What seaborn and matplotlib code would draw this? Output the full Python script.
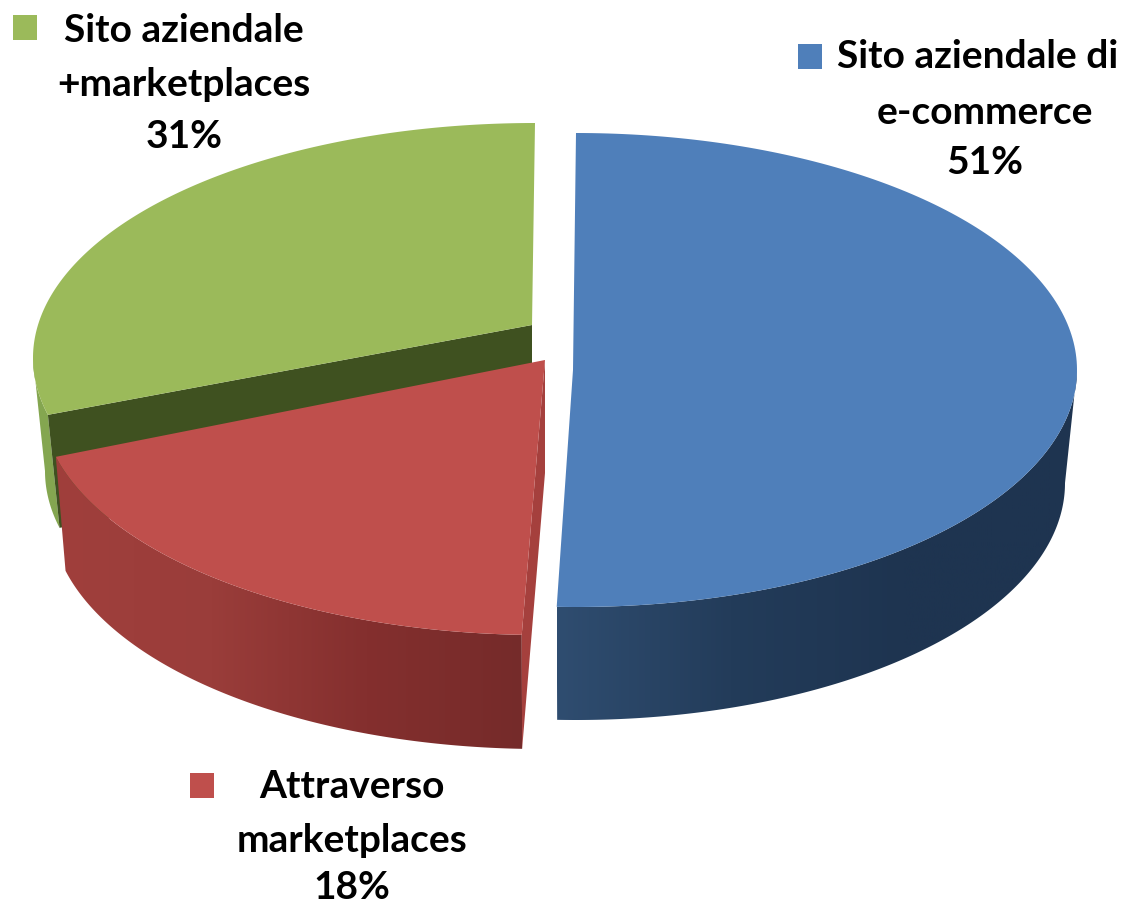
import numpy as np
import matplotlib
matplotlib.use("Agg")
import matplotlib.pyplot as plt
from matplotlib.colors import LinearSegmentedColormap
from matplotlib.patches import Polygon, Rectangle
import seaborn as sns

# chart data
categories = ["Sito aziendale di e-commerce", "Attraverso marketplaces", "Sito aziendale +marketplaces"]
values = [51, 18, 31]
label_lines = [["Sito aziendale di", "e-commerce"], ["Attraverso", "marketplaces"], ["Sito aziendale", "+marketplaces"]]

sns.set_theme(style="white")
plt.rcParams["font.family"] = ["Lato", "DejaVu Sans"]
top_colors = sns.color_palette(["#4F7FBA", "#BF4F4C", "#9BBA5A"])


def warp(theta):
    # The pie is seen in perspective, so angles on the disc are not ellipse angles.
    rad = np.radians(theta)
    return theta + 9.65 * np.cos(rad) + 1.0 * (1 - np.sin(rad))


def arc(cx, cy, rx, ry, start, end, n=200):
    phi = np.radians(np.linspace(start, end, n))
    return np.column_stack([cx + rx * np.cos(phi), cy - ry * np.sin(phi)])


def gradient_fill(ax, points, stops):
    # Side walls fade from left to right, drawn as an image clipped to the wall.
    cmap = LinearSegmentedColormap.from_list("wall", stops)
    x0, x1 = points[:, 0].min(), points[:, 0].max()
    y0, y1 = points[:, 1].min(), points[:, 1].max()
    patch = Polygon(points, closed=True, transform=ax.transData, facecolor="none", edgecolor="none")
    ax.add_patch(patch)
    img = ax.imshow(np.linspace(0, 1, 256).reshape(1, -1), cmap=cmap, aspect="auto",
                    extent=(x0, x1, y1, y0), zorder=patch.get_zorder())
    img.set_clip_path(patch)


# slice edges, clockwise from twelve o'clock
edges = 90 - np.cumsum([0] + values) * 3.6
blue_a, blue_b = warp(edges[0]), warp(edges[1])
red_a, red_b = warp(edges[1]), warp(edges[2])
green_a, green_b = warp(edges[2]), warp(edges[3])

fig = plt.figure(figsize=(11.34, 9.05), dpi=100)
ax = fig.add_axes([0, 0, 1, 1])

# green slice, at the back
g_top = (535, 358, 502, 235)
g_bot = (535, 471, 490, 235)
g_apex = np.array([532, 325])
wall = np.vstack([arc(*g_top, -180, green_a), arc(*g_bot, green_a, -180)])
ax.add_patch(Polygon(wall, closed=True, facecolor="#84A650", edgecolor="none"))
outer_top = arc(*g_top, green_a, green_a, 1)[0]
outer_bot = arc(*g_bot, green_a, green_a, 1)[0]
ax.add_patch(Polygon([g_apex, outer_top, outer_bot, g_apex + [0, 113]], closed=True,
                     facecolor="#3F5120", edgecolor="none"))
ax.add_patch(Polygon(np.vstack([g_apex, arc(*g_top, green_a, green_b)]), closed=True,
                     facecolor=top_colors[2], edgecolor="none"))

# red slice
r_top = (541, 400, 500, 235)
r_bot = (541, 514, 490, 235)
r_apex = np.array([545, 360])
wall = np.vstack([arc(*r_top, red_b, red_a), arc(*r_bot, red_a, red_b)])
gradient_fill(ax, wall, ["#A03F3C", "#9A3D3A", "#842F2E", "#752B2A"])
corner_top = arc(*r_top, red_a, red_a, 1)[0]
corner_bot = arc(*r_bot, red_a, red_a, 1)[0]
ax.add_patch(Polygon([r_apex, r_apex + [0, 113], corner_bot, corner_top], closed=True,
                     facecolor="#A5403D", edgecolor="none"))
ax.add_patch(Polygon(np.vstack([r_apex, arc(*r_top, red_a, red_b)]), closed=True,
                     facecolor=top_colors[1], edgecolor="none"))

# blue slice
b_top = (576, 370, 501, 237)
b_bot = (576, 483, 489, 237)
b_apex = np.array([573, 370])
wall = np.vstack([arc(*b_top, blue_b, 0), arc(*b_bot, 0, blue_b)])
gradient_fill(ax, wall, ["#2F4D70", "#233C5A", "#1E3450", "#1E3450"])
ax.add_patch(Polygon(np.vstack([b_apex, arc(*b_top, blue_b, blue_a)]), closed=True,
                     facecolor=top_colors[0], edgecolor="none"))

# labels with their legend keys
label_style = dict(fontsize=28, fontweight="bold", color="black", ha="center", va="center")
anchors = [(985, 57, 112, 163), (352, 786, 840, 887), (184, 30, 85, 137)]
keys = [(798, 44), (190, 773), (13, 15)]
for i in range(len(values)):
    x, y1, y2, y3 = anchors[i]
    ax.text(x - (7 if i == 0 else 0), y1, label_lines[i][0], **label_style)
    ax.text(x, y2, label_lines[i][1], **label_style)
    ax.text(x, y3, f"{values[i]}%", **label_style)
    ax.add_patch(Rectangle(keys[i], 24, 25, facecolor=top_colors[i], edgecolor="none"))

ax.set_xlim(0, 1134)
ax.set_ylim(905, 0)
ax.axis("off")
fig.savefig("out.png", dpi=100, facecolor="white")
plt.close(fig)
